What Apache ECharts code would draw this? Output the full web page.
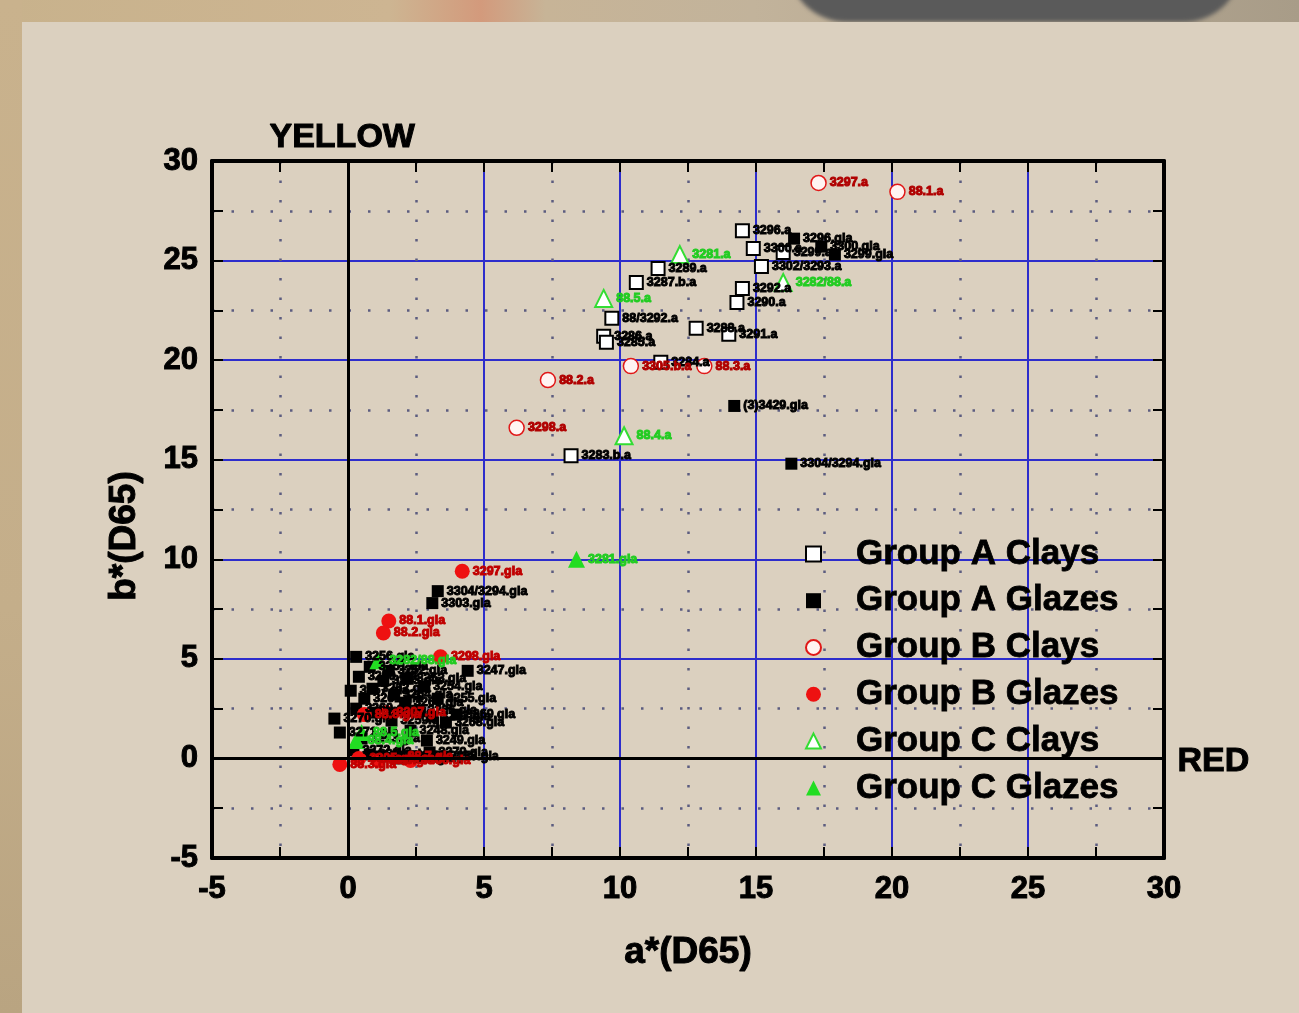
<!DOCTYPE html>
<html>
<head>
<meta charset="utf-8">
<title>CIELAB a*/b* of clays and glazes</title>
<script src="https://cdn.jsdelivr.net/npm/echarts@6/dist/echarts.min.js"></script>
<style>
  html, body { margin: 0; padding: 0; width: 1299px; height: 1013px; overflow: hidden; }
  #backdrop { position: absolute; left: 0; top: 0; width: 1299px; height: 1013px;
    background: linear-gradient(90deg, #c8b28c 0%, #cdb592 30%, #d39a7c 37%, #c7b497 42%, #c2b39b 58%, #a89c88 100%); }
  #stripe { position: absolute; left: 0; top: 0; width: 22px; height: 1013px;
    background: linear-gradient(180deg, #c9b28d 0%, #c4ae8a 60%, #b9a481 100%); }
  #blob { position: absolute; left: 787px; top: -40px; width: 456px; height: 62px;
    background: #5a5a5a; border-radius: 0 0 60px 60px; filter: blur(2px); }
  #panel { position: absolute; left: 22px; top: 22px; width: 1277px; height: 991px; background: #dbd0bf; }
  #chart { position: absolute; left: 0; top: 0; width: 1299px; height: 1013px; }
</style>
</head>
<body>
<div id="backdrop"></div>
<div id="stripe"></div>
<div id="blob"></div>
<div id="panel"></div>
<div id="chart"></div>
<script>
// Axis ranges and tick labels
const xTicks = [-5, 0, 5, 10, 15, 20, 25, 30];
const yTicks = [-5, 0, 5, 10, 15, 20, 25, 30];

const seriesNames = ['Group A Clays', 'Group A Glazes', 'Group B Clays', 'Group B Glazes', 'Group C Clays', 'Group C Glazes'];

// Group A clays: a*, b*, sample id
const aClaysA = [14.5, 14.9, 15.2, 16.0, 11.4, 10.6, 14.5, 14.3, 9.7, 12.8, 14.0, 9.4, 9.5, 11.5, 8.2];
const aClaysB = [26.5, 25.6, 24.7, 25.4, 24.6, 23.9, 23.6, 22.9, 22.1, 21.6, 21.3, 21.2, 20.9, 19.9, 15.2];
const aClaysId = ['3296.a', '3300.a', '3302/3293.a', '3299.a', '3289.a', '3287.b.a', '3292.a', '3290.a',
  '88/3292.a', '3288.a', '3291.a', '3286.a', '3285.a', '3284.a', '3283.b.a'];

// Group A glazes
const aGlazesA = [16.4, 17.4, 17.9, 14.2, 16.3, 3.3, 3.1,
  -0.5, -0.3, 0.2, 0.5, 0.8, 1.2, 1.8, 2.5, 3.4, 3.0,
  0.3, 0.6, 0.9, 1.3, 1.7, 2.1, 2.6, 3.1, 3.6, 4.0,
  0.4, 0.8, 1.5, 2.2, 2.8, 3.3, 0.3, 0.1, 1.0, 1.6, 2.3, 2.9, 4.4];
const aGlazesB = [26.1, 25.7, 25.3, 17.7, 14.8, 8.4, 7.8,
  2.0, 1.3, 0.4, 1.0, 0.2, 0.1, 0.0, 0.1, 0.1, 0.3,
  2.5, 3.0, 3.5, 3.9, 3.2, 2.8, 2.4, 2.1, 1.8, 2.2,
  4.1, 4.6, 4.4, 4.0, 3.6, 3.0, 5.1, 3.4, 2.3, 1.9, 1.4, 0.9, 4.4];
const aGlazesId = ['3296.gla', '3300.gla', '3299.gla', '(3)3429.gla', '3304/3294.gla', '3304/3294.gla', '3303.gla',
  '3270.gla', '3271.gla', '3272.gla', '3273.gla', '3274.gla', '3275.gla', '3276.gla', '3277.gla', '3278.gla', '3279.gla',
  '3260.gla', '3261.gla', '3262.gla', '3263.gla', '3264.gla', '3265.gla', '3266.gla', '3267.gla', '3268.gla', '3269.gla',
  '3250.gla', '3251.gla', '3252.gla', '3253.gla', '3254.gla', '3255.gla', '3256.gla', '3257.gla', '3258.gla', '3259.gla',
  '3248.gla', '3249.gla', '3247.gla'];

// Group B clays
const bClaysA = [17.3, 20.2, 7.35, 6.2, 10.4, 13.1];
const bClaysB = [28.9, 28.45, 19.0, 16.6, 19.7, 19.7];
const bClaysId = ['3297.a', '88.1.a', '88.2.a', '3298.a', '3305.b.a', '88.3.a'];

// Group B glazes
const bGlazesA = [4.2, 1.5, 1.3, 3.4, -0.3, 0.4, 1.1, 1.8, 2.3, 0.6, 1.4];
const bGlazesB = [9.4, 6.9, 6.3, 5.1, -0.3, 0.0, -0.1, 0.1, -0.1, 2.2, 2.3];
const bGlazesId = ['3297.gla', '88.1.gla', '88.2.gla', '3298.gla', '88.3.gla', '3305.gla', '88.6.gla',
  '88.7.gla', '3306.gla', '88.8.gla', '3307.gla'];

// Group C clays
const cClaysA = [12.2, 9.4, 16.0, 10.15];
const cClaysB = [25.3, 23.1, 23.9, 16.2];
const cClaysId = ['3281.a', '88.5.a', '3282/88.a', '88.4.a'];

// Group C glazes
const cGlazesA = [8.4, 1.1, 0.5, 0.3];
const cGlazesB = [10.0, 4.9, 1.3, 0.9];
const cGlazesId = ['3281.gla', '3282/88.gla', '88.5.gla', '88.4.gla'];

const FONT = "'Liberation Sans', Arial, Helvetica, sans-serif";

function points(xs, ys, ids) {
  return xs.map((x, i) => ({ name: ids[i], value: [x, ys[i]] }));
}

function pointLabel(color) {
  return {
    show: true, position: 'right', distance: 3, formatter: '{b}',
    color: color, fontSize: 12.5, fontWeight: 'bold', fontFamily: FONT,
    textBorderColor: color, textBorderWidth: 1
  };
}

function xAxisDef(pos) {
  const main = pos === 'bottom';
  return {
    type: 'value', position: pos, min: -5, max: 30, interval: 5,
    axisLine: { show: true, onZero: false, lineStyle: { color: '#000', width: 4 } },
    axisTick: { show: true, inside: true, length: 11, lineStyle: { color: '#000', width: 2 } },
    minorTick: { show: true, splitNumber: 2, length: 11, lineStyle: { color: '#000', width: 2 } },
    axisLabel: { show: main, color: '#000', fontSize: 31, fontWeight: 'bold', fontFamily: FONT, margin: 16,
      textBorderColor: '#000', textBorderWidth: 1 },
    splitLine: { show: main, showMinLine: false, showMaxLine: false, lineStyle: { color: '#2d2dcc', width: 2 } },
    minorSplitLine: { show: main, lineStyle: { color: '#5c5c80', width: 2.5, type: [2.5, 17] } },
    name: main ? 'a*(D65)' : '', nameLocation: 'middle', nameGap: 76,
    nameTextStyle: { color: '#000', fontSize: 37, fontWeight: 'bold', fontFamily: FONT,
      textBorderColor: '#000', textBorderWidth: 1 }
  };
}

function yAxisDef(pos) {
  const main = pos === 'left';
  return {
    type: 'value', position: pos, min: -5, max: 30, interval: 5,
    axisLine: { show: true, onZero: false, lineStyle: { color: '#000', width: 4 } },
    axisTick: { show: true, inside: true, length: 11, lineStyle: { color: '#000', width: 2 } },
    minorTick: { show: true, splitNumber: 2, length: 11, lineStyle: { color: '#000', width: 2 } },
    axisLabel: { show: main, color: '#000', fontSize: 31, fontWeight: 'bold', fontFamily: FONT, margin: 14,
      textBorderColor: '#000', textBorderWidth: 1 },
    splitLine: { show: main, showMinLine: false, showMaxLine: false, lineStyle: { color: '#2d2dcc', width: 2 } },
    minorSplitLine: { show: main, lineStyle: { color: '#5c5c80', width: 2.5, type: [2.5, 17] } }
  };
}

const chart = echarts.init(document.getElementById('chart'), null, { renderer: 'canvas' });

chart.setOption({
  backgroundColor: 'transparent',
  animation: false,
  grid: { left: 212, right: 135, top: 161, bottom: 155, show: false },
  xAxis: [xAxisDef('bottom'), xAxisDef('top')],
  yAxis: [yAxisDef('left'), yAxisDef('right')],
  legend: {
    data: seriesNames, orient: 'vertical', left: 800, top: 531,
    itemWidth: 15, itemHeight: 15, itemGap: 11, selectedMode: false,
    textStyle: { color: '#000', fontSize: 35, fontWeight: 'bold', fontFamily: FONT, lineHeight: 35,
      padding: [0, 0, 0, 30], textBorderColor: '#000', textBorderWidth: 0.8 }
  },
  graphic: [
    { type: 'text', left: 269, top: 120, z: 100,
      style: { text: 'YELLOW', fill: '#000', stroke: '#000', lineWidth: 1,
        font: "bold 34px 'Liberation Sans', Arial, sans-serif" } },
    { type: 'text', left: 1177, top: 744, z: 100,
      style: { text: 'RED', fill: '#000', stroke: '#000', lineWidth: 1,
        font: "bold 34px 'Liberation Sans', Arial, sans-serif" } },
    { type: 'text', x: 125, y: 536, rotation: Math.PI / 2, z: 100,
      style: { text: 'b*(D65)', fill: '#000', stroke: '#000', lineWidth: 1, align: 'center', verticalAlign: 'middle',
        font: "bold 37px 'Liberation Sans', Arial, sans-serif" } }
  ],
  series: [
    { // zero axes through the plot
      type: 'scatter', data: [], z: 1, silent: true,
      markLine: {
        silent: true, symbol: 'none', label: { show: false },
        lineStyle: { color: '#000', width: 3, type: 'solid' },
        data: [{ xAxis: 0 }, { yAxis: 0 }]
      }
    },
    { name: seriesNames[0], type: 'scatter', symbol: 'rect', symbolSize: 13,
      itemStyle: { color: '#ffffff', borderColor: '#000', borderWidth: 2, opacity: 1 },
      label: pointLabel('#000'), data: points(aClaysA, aClaysB, aClaysId) },
    { name: seriesNames[1], type: 'scatter', symbol: 'rect', symbolSize: 12,
      itemStyle: { color: '#000', opacity: 1 },
      label: pointLabel('#000'), data: points(aGlazesA, aGlazesB, aGlazesId) },
    { name: seriesNames[2], type: 'scatter', symbol: 'circle', symbolSize: 15,
      itemStyle: { color: '#fff4f2', borderColor: '#e01818', borderWidth: 1.5, opacity: 1 },
      label: pointLabel('#b00000'), data: points(bClaysA, bClaysB, bClaysId) },
    { name: seriesNames[3], type: 'scatter', symbol: 'circle', symbolSize: 15,
      itemStyle: { color: '#ee1111', opacity: 1 },
      label: pointLabel('#c00000'), data: points(bGlazesA, bGlazesB, bGlazesId) },
    { name: seriesNames[4], type: 'scatter', symbol: 'triangle', symbolSize: 17,
      itemStyle: { color: '#ffffff', borderColor: '#33dd33', borderWidth: 2, opacity: 1 },
      label: pointLabel('#22cc22'), data: points(cClaysA, cClaysB, cClaysId) },
    { name: seriesNames[5], type: 'scatter', symbol: 'triangle', symbolSize: 17,
      itemStyle: { color: '#22dd22', opacity: 1 },
      label: pointLabel('#22cc22'), data: points(cGlazesA, cGlazesB, cGlazesId) }
  ]
});
</script>
</body>
</html>
